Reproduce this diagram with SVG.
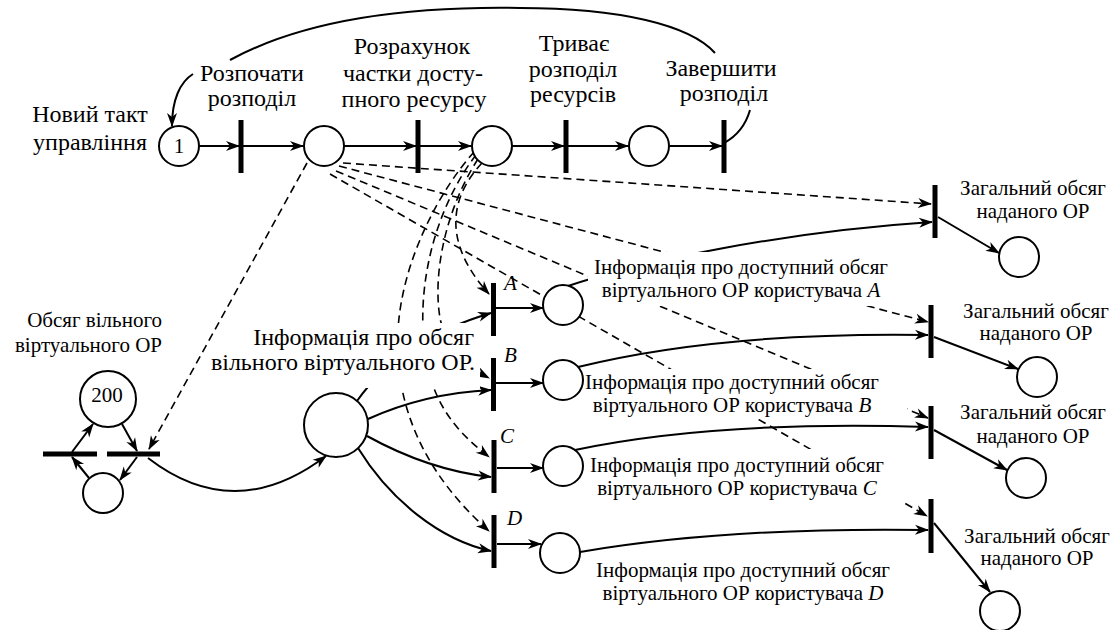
<svg xmlns="http://www.w3.org/2000/svg" width="1116" height="630" viewBox="0 0 1116 630" font-family="Liberation Serif, Times New Roman, serif">
<style>
text{fill:#000}
.b{font-size:24px}
.s{font-size:21px}
.i{font-style:italic}
.m{text-anchor:middle}
.e{text-anchor:end}
.pl{fill:#fff;stroke:#000;stroke-width:2}
.br{fill:#000}
.ln{fill:none;stroke:#000;stroke-width:2}
.ds{fill:none;stroke:#000;stroke-width:1.6;stroke-dasharray:8 5}
.ar{marker-end:url(#ah)}
</style>
<defs>
<marker id="ah" markerUnits="userSpaceOnUse" markerWidth="14" markerHeight="10" refX="13" refY="5" orient="auto" overflow="visible">
<path d="M0,0 L14,5 L0,10 L4,5 z" fill="#000"/>
</marker>
<mask id="mk" maskUnits="userSpaceOnUse" x="0" y="0" width="1116" height="630">
<rect width="1116" height="630" fill="#fff"/>
<rect x="252" y="323" width="226" height="27" fill="#000"/>
<rect x="208" y="350" width="272" height="38" fill="#000"/>
<rect x="588" y="252" width="302" height="54" fill="#000"/>
<rect x="583" y="369" width="324" height="50" fill="#000"/>
<rect x="590" y="449" width="315" height="53" fill="#000"/>
</mask>
</defs>
<rect width="1116" height="630" fill="#fff"/>

<g id="connectors" mask="url(#mk)">
<path class="ln ar" d="M199,146 L239,146"/>
<path class="ln ar" d="M243,146 L303,146"/>
<path class="ln ar" d="M344,146 L416,146"/>
<path class="ln ar" d="M420,146 L471,146"/>
<path class="ln ar" d="M512,146 L564,146"/>
<path class="ln ar" d="M568,146 L628,146"/>
<path class="ln ar" d="M669,146 L722,146"/>
<path class="ln" d="M724,143 C737,136 746,124 750,110"/>
<path class="ln" d="M715,53 C690,25 620,8 520,8 C400,6 300,22 230,60"/>
<path class="ln ar" d="M193,74 C180,82 172,100 172,126"/>
<path class="ln ar" d="M89,478 L72,457"/>
<path class="ln ar" d="M72,452 L93,424"/>
<path class="ln ar" d="M122,424 L137,451"/>
<path class="ln ar" d="M137,457 L120,480"/>
<path class="ds ar" d="M307,163 L149,449"/>
<path class="ln ar" d="M148,458 Q235,525 326,456"/>
<path class="ln ar" d="M357,401 Q400,340 491,313"/>
<path class="ln ar" d="M368,419 C410,400 450,392 491,390"/>
<path class="ln ar" d="M367,436 C405,457 445,472 491,477"/>
<path class="ln ar" d="M358,448 C390,500 440,540 491,551"/>
<path class="ln ar" d="M496,308 L543,308"/>
<path class="ln ar" d="M496,383 L543,383"/>
<path class="ln ar" d="M497,468 L543,468"/>
<path class="ln ar" d="M497,544 L541,544"/>
<path class="ln ar" d="M568,286 C640,262 780,232 932,222"/>
<path class="ln ar" d="M578,367 C680,342 800,333 928,335"/>
<path class="ln ar" d="M575,450 C680,428 800,423 928,427"/>
<path class="ln ar" d="M580,552 C680,535 800,528 928,530"/>
<path class="ln ar" d="M938,217 L999,253"/>
<path class="ln ar" d="M934,337 L1018,369"/>
<path class="ln ar" d="M934,430 L1007,470"/>
<path class="ln ar" d="M934,523 L990,592"/>
<path class="ds ar" d="M343,163 L931,204"/>
<path class="ds ar" d="M339,166 L928,322"/>
<path class="ds ar" d="M336,171 L928,418"/>
<path class="ds ar" d="M330,174 L927,516"/>
<path class="ds ar" d="M474,152 C440,190 402,260 398,330 S420,470 489,531"/>
<path class="ds ar" d="M476,155 C445,195 420,260 423,330 S455,430 489,457"/>
<path class="ds ar" d="M478,159 C448,205 432,270 440,318 C446,350 470,368 489,378"/>
<path class="ds ar" d="M482,163 C452,195 440,240 489,294"/>
</g>

<g id="p1"><circle class="pl" cx="179" cy="146" r="20"/><text class="s m" x="179" y="153">1</text></g>
<g id="t1"><rect class="br" x="238.5" y="120" width="5" height="53"/></g>
<g id="p2"><circle class="pl" cx="324" cy="146" r="20"/></g>
<g id="t2"><rect class="br" x="415.5" y="120" width="5" height="53"/></g>
<g id="p3"><circle class="pl" cx="492" cy="146" r="20"/></g>
<g id="t3"><rect class="br" x="563.5" y="120" width="5" height="53"/></g>
<g id="p4"><circle class="pl" cx="649" cy="146" r="20"/></g>
<g id="t4"><rect class="br" x="721.5" y="120" width="5" height="53"/></g>

<g id="p200"><circle class="pl" cx="108" cy="399" r="28"/><text class="s m" x="107" y="402">200</text></g>
<g id="tl1"><rect class="br" x="43" y="451.5" width="54" height="5"/></g>
<g id="tl2"><rect class="br" x="107" y="451.5" width="53" height="5"/></g>
<g id="pl0"><circle class="pl" cx="103" cy="493" r="20"/></g>
<g id="pbig"><circle class="pl" cx="336" cy="425" r="32"/></g>

<g id="tA"><rect class="br" x="491" y="283" width="5" height="53"/></g>
<g id="tB"><rect class="br" x="491" y="358" width="5" height="53"/></g>
<g id="tC"><rect class="br" x="491.5" y="440" width="5" height="53"/></g>
<g id="tD"><rect class="br" x="491.5" y="515" width="5" height="53"/></g>
<g id="pA"><circle class="pl" cx="563" cy="305" r="20"/></g>
<g id="pB"><circle class="pl" cx="563" cy="380" r="20"/></g>
<g id="pC"><circle class="pl" cx="563" cy="466" r="20"/></g>
<g id="pD"><circle class="pl" cx="560" cy="553" r="20"/></g>

<g id="r1"><rect class="br" x="932.5" y="185" width="5" height="53"/></g>
<g id="r2"><rect class="br" x="928.5" y="305" width="5" height="53"/></g>
<g id="r3"><rect class="br" x="928.5" y="406" width="5" height="53"/></g>
<g id="r4"><rect class="br" x="928.5" y="499" width="5" height="54"/></g>
<g id="q1"><circle class="pl" cx="1019" cy="257" r="20"/></g>
<g id="q2"><circle class="pl" cx="1037" cy="377" r="20"/></g>
<g id="q3"><circle class="pl" cx="1026" cy="478" r="20"/></g>
<g id="q4"><circle class="pl" cx="1000" cy="611" r="20"/></g>

<g id="labels">
<text class="b m" x="90" y="122">Новий такт</text>
<text class="b m" x="90" y="150">управління</text>
<text class="b m" x="252" y="81">Розпочати</text>
<text class="b m" x="252" y="106">розподіл</text>
<text class="b m" x="412" y="54">Розрахунок</text>
<text class="b m" x="413" y="81">частки досту-</text>
<text class="b m" x="414" y="107">пного ресурсу</text>
<text class="b m" x="574" y="51">Триває</text>
<text class="b m" x="573" y="77">розподіл</text>
<text class="b m" x="573" y="102">ресурсів</text>
<text class="b m" x="721" y="76">Завершити</text>
<text class="b m" x="724" y="101">розподіл</text>

<text class="s e" x="162" y="327">Обсяг вільного</text>
<text class="s e" x="162" y="352">віртуального ОР</text>

<text class="b e" x="474" y="345">Інформація про обсяг</text>
<text class="b e" x="475" y="370">вільного віртуального ОР.</text>

<text class="s i" x="504" y="290">A</text>
<text class="s i" x="504" y="362">B</text>
<text class="s i" x="500" y="443">C</text>
<text class="s i" x="507" y="525">D</text>

<text class="s m" x="741" y="274">Інформація про доступний обсяг</text>
<text class="s m" x="741" y="297">віртуального ОР користувача <tspan class="i">A</tspan></text>
<text class="s m" x="732" y="389">Інформація про доступний обсяг</text>
<text class="s m" x="732" y="412">віртуального ОР користувача <tspan class="i">B</tspan></text>
<text class="s m" x="737" y="472">Інформація про доступний обсяг</text>
<text class="s m" x="737" y="495">віртуального ОР користувача <tspan class="i">C</tspan></text>
<text class="s m" x="743" y="577">Інформація про доступний обсяг</text>
<text class="s m" x="743" y="600">віртуального ОР користувача <tspan class="i">D</tspan></text>

<text class="s m" x="1033" y="195">Загальний обсяг</text>
<text class="s m" x="1033" y="218">наданого ОР</text>
<text class="s m" x="1036" y="318">Загальний обсяг</text>
<text class="s m" x="1036" y="340">наданого ОР</text>
<text class="s m" x="1033" y="419">Загальний обсяг</text>
<text class="s m" x="1033" y="443">наданого ОР</text>
<text class="s m" x="1037" y="543">Загальний обсяг</text>
<text class="s m" x="1037" y="565">наданого ОР</text>
</g>
</svg>
